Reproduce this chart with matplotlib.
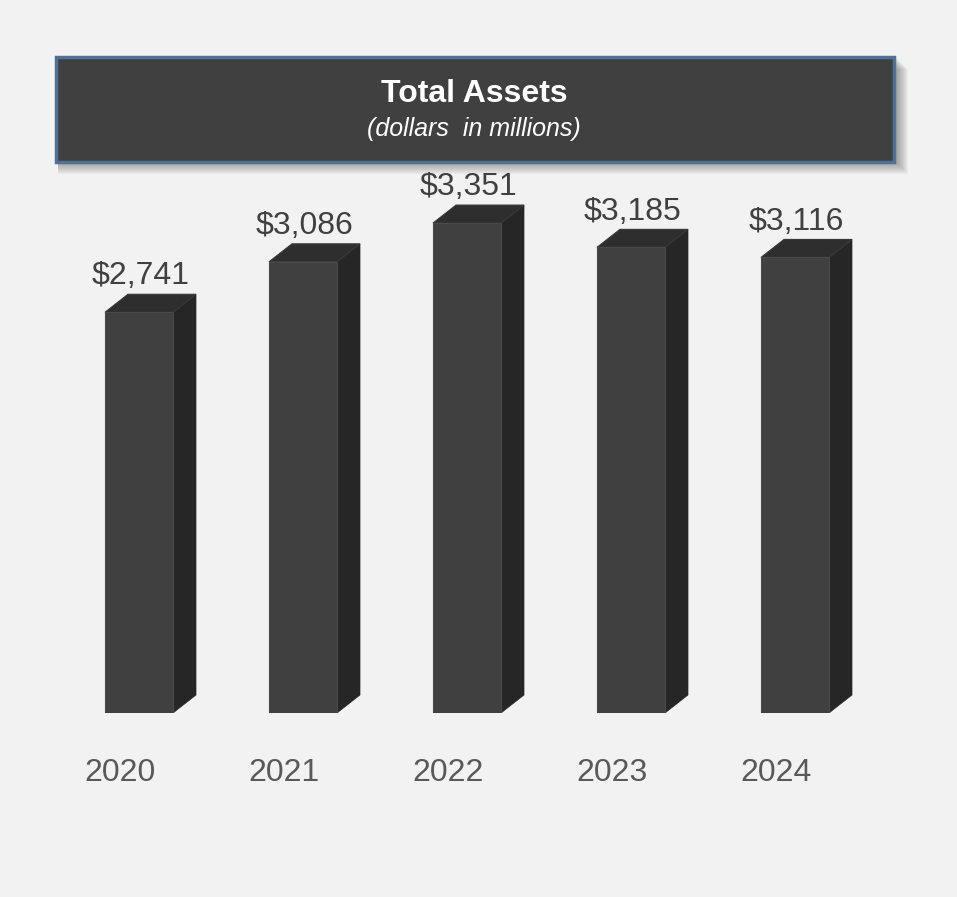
import matplotlib
matplotlib.use('Agg')
import matplotlib.pyplot as plt
from matplotlib.patches import Polygon, Rectangle
from matplotlib.transforms import ScaledTranslation

years = ['2020', '2021', '2022', '2023', '2024']
assets = [2741, 3086, 3351, 3185, 3116]
value_labels = ['$2,741', '$3,086', '$3,351', '$3,185', '$3,116']

W, H = 957, 897
bg = '#f2f2f2'
front = '#404040'
top_c = '#2e2e2e'
side_c = '#262626'

plt.rcParams['font.family'] = ['Liberation Sans', 'DejaVu Sans']

fig = plt.figure(figsize=(W / 100, H / 100), dpi=100, facecolor=bg)

# axes placed so that y=0 sits at pixel row 713 and bars are 164 px apart
base_px = 713
top_px = 180
left_px, right_px = 57, 877
ax = fig.add_axes([left_px / W, (H - base_px) / H,
                   (right_px - left_px) / W, (base_px - top_px) / H])
px_per_val = 0.1462
ax.set_xlim(-0.5, 4.5)
ax.set_ylim(0, (base_px - top_px) / px_per_val)
ax.axis('off')
ax.patch.set_visible(False)

bw = 68 / 164
dx = 23 / 164              # depth offset in data units
dy = 18 / px_per_val

xs = range(len(years))
ax.bar(xs, assets, width=bw, color=front, edgecolor='#4a4a4a', linewidth=0.8, zorder=3)

for i, v in zip(xs, assets):
    x0, x1 = i - bw / 2, i + bw / 2
    side = Polygon([(x1, 0), (x1 + dx, dy), (x1 + dx, v + dy), (x1, v)],
                   closed=True, facecolor=side_c, edgecolor=side_c, lw=0.5, zorder=2)
    top = Polygon([(x0, v), (x1, v), (x1 + dx, v + dy), (x0 + dx, v + dy)],
                  closed=True, facecolor=top_c, edgecolor='#383838', lw=0.8, zorder=2)
    ax.add_patch(side)
    ax.add_patch(top)

for i, v, lab in zip(xs, assets, value_labels):
    ax.annotate(lab, (i, v), xytext=(1, 20), textcoords='offset points',
                ha='center', va='baseline', fontsize=23, color='#404040')

lab_tr = ax.transData + ScaledTranslation(-19 / 100, -60 / 100, fig.dpi_scale_trans)
for i, y in zip(xs, years):
    ax.text(i, 0, y, transform=lab_tr, ha='center', va='center',
            fontsize=23, color='#595959')

# title box with soft shadow
bx0, by0, bx1, by1 = 56, 57, 894, 162
for k in range(12, 0, -1):
    fig.patches.append(Rectangle(((bx0 + 2) / W, (H - by1 - k) / H),
                                 (bx1 - bx0 + k) / W, (by1 - by0) / H,
                                 transform=fig.transFigure, facecolor='#404040',
                                 edgecolor='none', alpha=0.045, zorder=1))
fig.patches.append(Rectangle((bx0 / W, (H - by1) / H), (bx1 - bx0) / W, (by1 - by0) / H,
                             transform=fig.transFigure, facecolor='#404040',
                             edgecolor='#4f7195', linewidth=2.5, zorder=2))

fig.text(474 / W, 1 - 94 / H, 'Total Assets', ha='center', va='center',
         fontsize=23, fontweight='bold', color='white', zorder=5)
fig.text(474 / W, 1 - 129 / H, '(dollars  in millions)', ha='center', va='center',
         fontsize=18, fontstyle='italic', color='white', zorder=5)

fig.savefig('out.png', dpi=100, facecolor=bg)
